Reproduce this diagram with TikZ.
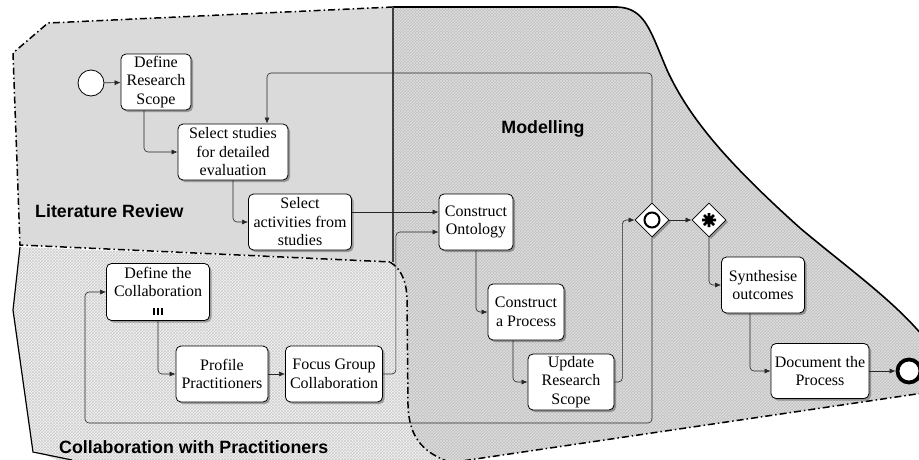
\documentclass[tikz,border=0pt]{standalone}
\usepackage{fontspec}
\setmainfont{Liberation Serif}
\setsansfont{Liberation Sans}
\usetikzlibrary{shapes.geometric,arrows.meta,patterns,shadows,calc}
\definecolor{litfill}{gray}{0.855}
\definecolor{modbase}{gray}{0.75}
\definecolor{modline}{gray}{0.88}
\definecolor{colbase}{gray}{0.96}
\definecolor{colline}{gray}{0.80}
\definecolor{conn}{gray}{0.15}
\tikzset{
  taskbox/.style={rectangle, rounded corners=5pt, draw=black, line width=0.8pt, fill=white,
    align=center, inner sep=0pt, font=\fontsize{16}{18.5}\selectfont,
    drop shadow={shadow xshift=2pt, shadow yshift=-2pt, fill=black, opacity=0.3}},
  gatebox/.style={diamond, draw=black, line width=0.8pt, fill=white, inner sep=0pt,
    minimum width=34pt, minimum height=34pt,
    drop shadow={shadow xshift=2pt, shadow yshift=-2pt, fill=black, opacity=0.3}},
  flow/.style={draw=conn, line width=0.6pt, rounded corners=4pt, -{Latex[length=6pt,width=5pt]}},
  dashdot/.style={line width=1.5pt, dash pattern=on 7pt off 3pt on 1.5pt off 3pt},
  poollabel/.style={font=\sffamily\bfseries\fontsize{17.8}{20}\selectfont, inner sep=0pt},
}
\begin{document}
\begin{tikzpicture}[x=1pt, y=-1pt]
\useasboundingbox (0,0) rectangle (919,459);
\clip (0,0) rectangle (919,459);
% Modelling region
\path[fill=modbase] (393,7) -- (617,7) .. controls (645,8) and (650,30) .. (667,70)
  .. controls (690,120) and (730,165) .. (800,228) .. controls (850,270) and (900,305) .. (930,345)
  -- (930,392) -- (455,462) -- (393,462) -- cycle;
\path[pattern=crosshatch, pattern color=modline] (393,7) -- (617,7) .. controls (645,8) and (650,30) .. (667,70)
  .. controls (690,120) and (730,165) .. (800,228) .. controls (850,270) and (900,305) .. (930,345)
  -- (930,392) -- (455,462) -- (393,462) -- cycle;
\draw[line width=1.6pt] (393,7) -- (617,7) .. controls (645,8) and (650,30) .. (667,70)
  .. controls (690,120) and (730,165) .. (800,228) .. controls (850,270) and (900,305) .. (930,345);
\draw[dashdot] (930,392) -- (455,462);
% Collaboration region
\path[fill=colbase] (20,247) -- (390,262) .. controls (403,270) and (407,285) .. (407,300)
  -- (408,405) .. controls (409,440) and (425,455) .. (458,465) -- (70,465) -- (33,450) -- (13,310) -- cycle;
\path[pattern=crosshatch, pattern color=colline] (20,247) -- (390,262) .. controls (403,270) and (407,285) .. (407,300)
  -- (408,405) .. controls (409,440) and (425,455) .. (458,465) -- (70,465) -- (33,450) -- (13,310) -- cycle;
\draw[dashdot] (390,262) .. controls (403,270) and (407,285) .. (407,300)
  -- (408,405) .. controls (409,440) and (425,455) .. (458,465);
\draw[line width=1.2pt] (20,247) -- (13,310) -- (33,452) -- (72,460);
% Literature review region
\path[fill=litfill] (48,23) -- (393,7) -- (393,262) -- (20,245) -- (13,53) -- cycle;
\draw[dashdot] (393,7) -- (48,23) -- (13,53) -- (20,245) -- (392,262);
\draw[line width=1.2pt, draw=black!75] (393,7) -- (393,262);
% Labels
\node[poollabel, anchor=west] (lLit) at (35,211) {Literature Review};
\node[poollabel] (lMod) at (543,129) {Modelling};
\node[poollabel, anchor=west] (lCol) at (59,447) {Collaboration with Practitioners};
% Events
\node[circle, draw=black, line width=0.8pt, fill=white, minimum size=26pt, inner sep=0pt] (start) at (91,83) {};
\node[circle, draw=black, line width=3.8pt, fill=white, minimum size=23pt, inner sep=0pt] (end) at (909,371) {};
% Tasks
\node[taskbox, minimum width=70pt, minimum height=56pt] (drs) at (156,82) {Define\\Research\\Scope};
\node[taskbox, minimum width=110pt, minimum height=56pt] (sel) at (233,152) {Select studies\\for detailed\\evaluation};
\node[taskbox, minimum width=103pt, minimum height=56pt] (act) at (300,222) {Select\\activities from\\studies};
\node[taskbox, minimum width=74pt, minimum height=56pt] (ont) at (476,222) {Construct\\Ontology};
\node[taskbox, minimum width=76pt, minimum height=56pt] (proc) at (526,312) {Construct\\a Process};
\node[taskbox, minimum width=86pt, minimum height=56pt] (upd) at (571,382) {Update\\Research\\Scope};
\node[taskbox, minimum width=83pt, minimum height=56pt] (syn) at (763,285) {Synthesise\\outcomes};
\node[taskbox, minimum width=98pt, minimum height=55pt] (doc) at (820,371) {Document the\\Process};
\node[taskbox, minimum width=103pt, minimum height=57pt] (dcol) at (158,292) {Define the\\Collaboration\\[2pt]};
\node[taskbox, minimum width=92pt, minimum height=56pt] (prof) at (222,374) {Profile\\Practitioners};
\node[taskbox, minimum width=97pt, minimum height=56pt] (focus) at (334,374) {Focus Group\\Collaboration};
% multi-instance marker
\draw[line width=2pt] (154,308) -- (154,315) (158,308) -- (158,315) (162,308) -- (162,315);
% Gateways
\node[gatebox] (g1) at (652,220) {};
\draw[line width=2pt] (g1.center) circle (7.5pt);
\node[gatebox] (g2) at (709,220) {};
\draw[line width=2.6pt] ($(g2.center)+(-7,0)$) -- ($(g2.center)+(7,0)$)
  ($(g2.center)+(0,-7)$) -- ($(g2.center)+(0,7)$)
  ($(g2.center)+(-5,-5)$) -- ($(g2.center)+(5,5)$)
  ($(g2.center)+(-5,5)$) -- ($(g2.center)+(5,-5)$);
% Loop coordinates
\coordinate (loopA) at (267,73);
\coordinate (loopB) at (85,423);
% Flows
\draw[flow] (start) -- (drs);
\draw[flow] ([xshift=-12pt]drs.south) |- (sel.west);
\draw[flow] (sel.south) |- (act.west);
\draw[flow] ([yshift=10pt]act.east) -- ([yshift=10pt]act.east -| ont.west);
\draw[flow] (focus.east) -- ++(13,0) |- ([yshift=-10pt]ont.west);
\draw[flow] (ont.south) |- (proc.west);
\draw[flow] ([xshift=-13pt]proc.south) |- (upd.west);
\draw[flow] (upd.east) -- ++(8,0) |- (g1.west);
\draw[flow] (g1.north) |- (loopA) -- (loopA |- sel.north);
\draw[flow] (g1.south) |- (loopB) |- (dcol.west);
\draw[flow] (g1.east) -- (g2.west);
\draw[flow] (g2.south) |- (syn.west);
\draw[flow] ([xshift=-13pt]syn.south) |- (doc.west);
\draw[flow] (doc.east) -- (end);
\draw[flow] (dcol.south) |- (prof.west);
\draw[flow] (prof) -- (focus);
\end{tikzpicture}
\end{document}
